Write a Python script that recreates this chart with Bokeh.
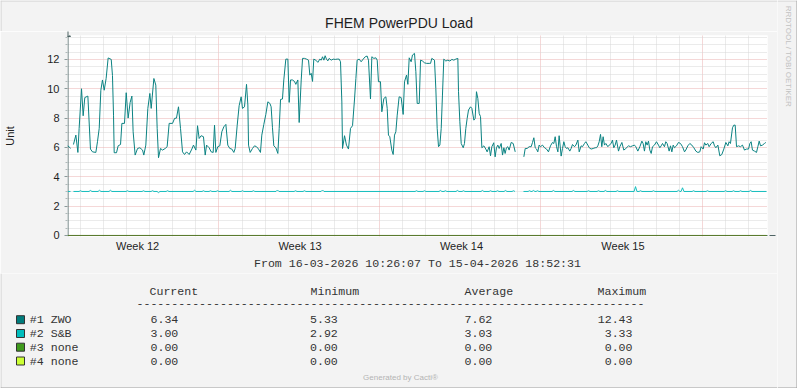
import math
from bokeh.plotting import figure
from bokeh.layouts import row, column
from bokeh.models import Range1d, FixedTicker, Arrow, NormalHead
from bokeh.core.properties import value
from bokeh.embed import file_html
from bokeh.resources import INLINE

NAN = float("nan")

TITLE = "FHEM PowerPDU Load"
SUBTITLE = "From 16-03-2026 10:26:07 To 15-04-2026 18:52:31"
Y_LABEL = "Unit"
VENDOR = "RRDTOOL / TOBI OETIKER"
FOOTER = "Generated by Cacti\u00ae"

SPAN_HOURS = 728.44          # 16-03 10:26:07 -> 15-04 18:52:31
Y_MIN, Y_MAX = -0.07, 13.63

# x axis in hours since the graph start
WEEK_LABELS = ["Week 12", "Week 13", "Week 14", "Week 15"]
WEEK_LABEL_HOURS = [73, 242, 410, 578]
WEEK_START_HOURS = [157.6, 324.6, 492.6, 660.6]
DAY_START_HOURS = [13.6, 37.6, 61.6, 85.6, 109.6, 133.6, 157.6, 181.6, 205.6, 229.6,
                   253.6, 277.6, 301.6, 324.6, 348.6, 372.6, 396.6, 420.6, 444.6, 468.6,
                   492.6, 516.6, 540.6, 564.6, 588.6, 612.6, 636.6, 660.6, 684.6, 708.6]
Y_TICKS = [0, 2, 4, 6, 8, 10, 12]
Y_MINOR = [0.5, 1, 1.5, 2.5, 3, 3.5, 4.5, 5, 5.5, 6.5, 7, 7.5, 8.5, 9, 9.5,
           10.5, 11, 11.5, 12.5, 13, 13.5]

# series #1 ZWO
ZWO_HOURS = [
    0.0, 1.7, 3.1, 4.5, 6.2, 8.7, 10.8, 12.1, 14.6, 16.3, 18.0, 21.2, 23.9, 26.0, 29.5, 31.2,
    33.0, 34.7, 36.4, 38.2, 40.2, 42.3, 45.5, 46.8, 47.9, 48.6, 51.0, 52.7, 55.2, 56.6, 59.3,
    61.1, 63.1, 65.2, 67.0, 68.3, 70.4, 72.9, 75.3, 78.1, 79.4, 81.5, 83.6, 85.7, 87.1, 89.9,
    91.9, 93.3, 94.7, 96.8, 98.9, 101.7, 103.7, 105.8, 109.3, 111.4, 113.4, 115.5, 117.6,
    119.7, 121.8, 123.9, 126.6, 129.4, 131.1, 133.6, 135.3, 137.0, 139.1, 141.5, 143.3, 144.7,
    147.4, 149.5, 151.6, 153.0, 154.4, 156.4, 158.5, 160.6, 162.7, 164.8, 166.8, 168.9, 171.0,
    173.1, 174.5, 176.6, 178.6, 180.7, 182.1, 184.2, 186.3, 187.7, 188.4, 190.1, 192.5, 194.6,
    196.7, 198.8, 200.8, 202.2, 204.3, 206.4, 208.5, 210.6, 211.9, 213.3, 214.7, 216.8, 218.9,
    220.3, 221.7, 223.7, 225.1, 227.2, 229.3, 230.7, 232.1, 234.1, 236.2, 237.6, 239.7, 241.1,
    243.2, 244.6, 246.6, 248.7, 250.8, 252.2, 253.6, 255.0, 256.3, 258.4, 260.5, 262.6, 264.0,
    265.4, 266.8, 268.1, 269.5, 270.9, 272.3, 274.4, 276.5, 278.6, 280.6, 282.7, 284.1, 285.5,
    286.2, 288.3, 290.3, 292.4, 294.5, 296.6, 298.7, 300.1, 301.4, 303.5, 305.6, 307.7, 309.8,
    311.8, 313.2, 315.3, 316.7, 318.8, 320.9, 322.3, 323.6, 325.7, 327.1, 329.2, 331.3, 332.7,
    334.0, 335.4, 337.5, 338.9, 340.3, 341.7, 343.1, 345.1, 347.2, 349.3, 350.7, 352.8, 354.2,
    355.6, 357.6, 359.0, 361.1, 362.5, 363.9, 366.0, 367.4, 369.4, 371.5, 373.6, 376.4, 377.8,
    379.1, 381.9, 383.3, 384.7, 386.1, 387.5, 388.9, 390.2, 391.6, 393.7, 395.8, 397.9, 400.0,
    402.0, 404.1, 406.2, 406.9, 408.3, 409.7, 411.8, 413.1, 414.5, 415.9, 417.3, 419.4, 420.8,
    422.9, 424.2, 425.6, 427.0, 428.4, 429.8, 431.2, 433.3, 435.3, 436.7, 438.8, 440.2, 441.6,
    443.6, 445.0, 446.4, 447.8, 449.2, 451.3, 452.7, 454.1, 455.4, 456.8, 458.2, 459.6, 461.7,
    463.8, 465.9, 470.0, 474.9, 476.3, 478.3, 480.4, 482.5, 483.9, 485.3, 486.7, 488.1, 489.4,
    490.8, 492.2, 494.3, 496.4, 498.5, 500.5, 502.6, 504.7, 506.1, 507.5, 508.9, 510.3, 511.6,
    513.7, 515.1, 516.5, 517.9, 519.3, 520.7, 522.7, 524.1, 525.5, 527.6, 529.0, 531.1, 532.5,
    534.5, 535.9, 538.0, 539.4, 541.5, 542.9, 544.9, 547.0, 549.1, 550.5, 551.9, 553.3, 554.7,
    556.0, 557.4, 558.8, 560.2, 562.3, 563.7, 565.8, 567.1, 568.5, 569.9, 571.3, 573.4, 574.8,
    576.9, 578.9, 581.0, 583.8, 585.9, 587.9, 590.0, 591.4, 593.5, 595.6, 597.7, 599.0, 600.4,
    601.8, 603.2, 604.6, 606.0, 607.4, 608.8, 610.8, 612.9, 615.0, 616.4, 617.8, 619.2, 621.2,
    622.6, 624.0, 626.1, 627.5, 628.9, 630.3, 631.7, 633.7, 635.8, 637.9, 640.0, 642.1, 643.4,
    645.5, 647.6, 649.7, 651.8, 653.9, 655.9, 658.0, 659.4, 661.5, 662.9, 664.3, 666.3, 667.7,
    669.8, 671.9, 673.3, 674.7, 676.8, 678.8, 680.9, 683.0, 685.1, 687.2, 688.5, 689.9, 692.0,
    693.4, 694.8, 696.2, 698.3, 700.3, 702.4, 704.5, 706.6, 708.7, 710.1, 711.4, 712.8, 714.9,
    717.0, 718.4, 719.8, 721.2, 723.2, 725.3, 726.7]
ZWO_VALUES = [
    6.11, 6.05, 5.93, NAN, 6.2, 6.84, 5.66, 7.3, 10.0, 8.16, 9.4, 9.5, 5.89, 5.7, 5.66, 6.39,
    7.3, 9.9, 10.6, 9.9, 10.7, 12.1, 12.0, 10.9, 8.2, 5.64, 5.64, 6.11, 6.2, 7.64, 7.64,
    9.73, 8.0, 9.07, 9.5, 7.07, 5.48, 5.93, 5.98, 5.82, 5.48, 6.16, 8.66, 9.68, 8.66, 10.7,
    10.25, 7.3, 5.3, 5.93, 5.82, 5.93, 6.05, 7.64, 7.64, 7.98, 8.0, 8.77, 7.3,
    5.7, 5.52, 5.7, 5.52, 5.89, 6.16, 5.82, 7.48, 6.61, 6.8, 6.73, 5.48, 6.16,
    5.98, 5.7, 5.66, 7.52, 5.66, 6.05, 6.11, 7.07, 7.41, 7.57, 6.16, 5.93, 5.89,
    5.66, 5.93, 7.52, 8.84, 9.45, 8.66, 8.77, 10.3, 8.89, 6.16, 5.66, 5.93, 6.11,
    6.05, 5.89, 5.66, 6.84, 7.57, 8.25, 9.11, 9.0, 8.77, 7.34, 6.11, 5.98, 5.59,
    7.3, 9.27, 9.3, 10.6, 12.02, 12.02, 9.07, 10.6, 10.6, 10.5, 10.3, 10.6, 7.7,
    10.6, 12.07, 12.07, 12.02, 11.95, 10.93, 11.05, 10.5, 12.02, 11.95, 11.8, 12.02, 11.95,
    12.18, 11.95, 12.25, 12.02, 11.9, 12.07, 11.95, 12.02, 12.0, 12.02, 12.02, 11.84, 9.1,
    5.93, 6.8, 6.16, 5.89, 7.3, 7.48, 9.3, 10.7, 11.95, 12.02, 11.84, 12.02, 12.18,
    12.23, 11.95, 9.3, 12.18, 12.07, 12.11, 11.95, 10.48, 10.48, 8.43, 9.34, 9.45, 8.66,
    6.84, 6.73, 5.82, 5.52, 6.84, 7.07, 8.2, 9.45, 9.4, 8.25, 10.48, 10.93, 10.3,
    12.11, 11.84, 12.3, 12.41, 11.16, 9.0, 9.0, 11.95, 11.89, 11.77, 11.73, 11.73, 11.73,
    12.07, 11.95, 10.0, 7.3, 6.05, 6.16, 7.3, 9.57, 12.02, 11.89, 11.95, 11.89, 12.0,
    11.95, 12.02, 12.07, 9.8, 7.75, 6.27, 5.98, 6.27, 7.3, 7.98, 8.55, 8.77, 8.66,
    7.86, 7.98, 9.8, 9.34, 8.32, 8.1, 5.98, 6.11, 5.89, 5.7, 6.05, 5.43, 6.05,
    6.32, 5.36, 5.98, 6.16, 5.93, 6.27, 5.48, 5.98, 5.59, 5.98, 6.05, 5.82, 6.34,
    6.27, 5.7, NAN, 5.36, 5.93, 5.93, 6.05, 6.05, 6.34, 6.66, 5.98, 5.89, 5.7,
    6.16, 6.05, 6.16, 5.98, 5.89, 5.7, 6.11, 6.34, 6.27, 6.73, 6.05, 5.7, 6.8,
    5.41, 5.93, 6.39, 6.05, 5.93, 5.98, 5.75, 5.93, 6.2, 6.05, 6.16, 6.5, 5.7,
    6.11, 6.05, 6.27, 6.39, 6.16, 5.98, 5.89, 5.93, 5.98, 5.98, 6.11, 6.39, 6.89,
    6.05, 6.73, 6.16, 6.27, 6.05, 6.16, 6.27, 6.5, 5.98, 6.16, 6.5, 5.75, 6.05,
    6.34, 5.82, 5.93, 6.11, 6.05, 6.11, 6.16, 6.05, 5.75, 6.05, 6.43, 6.27, 5.75,
    6.39, 6.16, 6.43, 5.82, 5.59, 6.05, 6.16, 6.39, 6.16, 5.98, 6.11, 6.27, 6.05,
    6.39, 6.27, 5.75, 6.11, 5.7, 6.16, 5.98, 6.11, 6.34, 6.27, 6.05, 5.7, 5.82,
    6.11, 6.27, 6.16, 5.98, 5.75, 5.66, 5.7, 6.05, 5.89, 6.32, 6.16, 6.27, 6.05,
    6.27, 6.39, 6.11, 5.98, 6.16, 5.43, 5.52, 5.89, 6.34, 6.11, 6.39, 6.27, 7.34,
    7.52, 7.52, 6.05, 6.11, 6.05, 6.16, 5.82, 5.89, 5.89, 6.27, 6.39, 5.82, 5.75,
    5.66, 6.05, 6.43, 6.11, 6.16, 6.27, 6.34]

# series #2 S&B
SB_HOURS = [
    0.0, 3.1, 4.5, 6.2,
    12.0, 13.5, 15.0, 22.4, 23.9, 25.4, 31.8, 33.3, 34.8, 43.2, 44.7, 46.2,
    60.9, 62.4, 63.9, 77.6, 79.1, 80.6, 87.0, 88.5, 90.0, 93.2, 94.7, 96.2,
    102.6, 104.1, 105.6, 130.7, 132.2, 133.7, 140.0, 141.5, 143.0, 147.3, 148.8, 150.3,
    154.6, 156.1, 157.6, 168.1, 169.6, 171.1, 180.6, 182.1, 183.6, 192.0, 193.5, 195.0,
    217.0, 218.5, 220.0, 235.8, 237.3, 238.8, 245.1, 246.6, 248.1, 263.9, 265.4, 266.9,
    361.7, 363.2, 364.7, 370.0, 371.5, 373.0, 386.6, 388.1, 389.6, 391.8, 393.3, 394.8,
    404.3, 405.8, 407.3, 410.6, 412.1, 413.6, 430.3, 431.8, 433.3, 438.7, 440.2, 441.7,
    446.0, 447.5, 449.0, 454.3, 455.8, 457.3, 462.6, 464.1, 465.6, 470.0, 474.5,
    479.3, 480.8, 482.3, 483.4, 484.9, 486.4, 487.6, 489.1, 490.6, 504.2, 505.7, 507.2,
    525.0, 526.5, 528.0, 540.7, 542.2, 543.7, 551.1, 552.6, 554.1, 558.3, 559.8, 561.3,
    570.8, 572.3, 573.8, 589.6, 591.1, 592.6, 594.8, 596.3, 597.8, 608.3, 609.8, 611.3,
    634.3, 635.8, 637.3, 638.5, 640.0, 641.5, 650.0, 651.5, 653.0, 664.5, 666.0, 667.5,
    683.3, 684.8, 686.3, 691.6, 693.1, 694.6, 698.9, 700.4, 701.9, 709.3, 710.8, 712.3,
    727.4]
SB_VALUES = [
    3.0, 3.0, NAN, 3.0,
    3.0, 3.05, 3.0, 3.0, 3.07, 3.0, 3.0, 3.08, 3.0, 3.0, 3.08, 3.0,
    3.0, 3.05, 3.0, 3.0, 3.05, 3.0, 3.0, 3.05, 3.0, 3.0, 2.92, 3.0,
    3.0, 3.05, 3.0, 3.0, 3.08, 3.0, 3.0, 3.05, 3.0, 3.0, 3.05, 3.0,
    3.0, 3.05, 3.0, 3.0, 3.08, 3.0, 3.0, 3.05, 3.0, 3.0, 3.05, 3.0,
    3.0, 3.1, 3.0, 3.0, 3.05, 3.0, 3.0, 3.05, 3.0, 3.0, 3.1, 3.0,
    3.0, 3.05, 3.0, 3.0, 3.05, 3.0, 3.0, 3.07, 3.0, 3.0, 3.05, 3.0,
    3.0, 3.07, 3.0, 3.0, 3.05, 3.0, 3.0, 3.07, 3.0, 3.0, 3.05, 3.0,
    3.0, 3.05, 3.0, 3.0, 3.07, 3.0, 3.0, 3.05, 3.0, NAN, 3.0,
    3.0, 3.05, 3.0, 3.0, 3.07, 3.0, 3.0, 3.05, 3.0, 3.0, 3.07, 3.0,
    3.0, 3.07, 3.0, 3.0, 3.05, 3.0, 3.0, 3.05, 3.0, 3.0, 3.07, 3.0,
    3.0, 3.05, 3.0, 3.0, 3.33, 3.0, 3.0, 3.05, 3.0, 3.0, 3.05, 3.0,
    3.0, 3.08, 3.0, 3.0, 3.25, 3.0, 3.0, 3.05, 3.0, 3.0, 3.05, 3.0,
    3.0, 3.05, 3.0, 3.0, 3.05, 3.0, 3.0, 3.05, 3.0, 3.0, 3.07, 3.0,
    3.0]

# series #3 / #4 (none)
NONE_HOURS = [0.0, 727.4]
NONE3_VALUES = [0.0, 0.0]
NONE4_VALUES = [0.0, 0.0]

# legend table
LEGEND_NAMES = ["#1 ZWO", "#2 S&B", "#3 none", "#4 none"]
LEGEND_COLORS = ["#007C7C", "#00BDBD", "#3F9A1C", "#CCFF33"]
STAT_HEADERS = ["Current", "Minimum", "Average", "Maximum"]
STAT_CURRENT = ["6.34", "3.00", "0.00", "0.00"]
STAT_MINIMUM = ["5.33", "2.92", "0.00", "0.00"]
STAT_AVERAGE = ["7.62", "3.03", "0.00", "0.00"]
STAT_MAXIMUM = ["12.43", "3.33", "0.00", "0.00"]

BG = "#F3F3F3"
AXIS_C = "#4E6464"
TEXT_C = "#1E1E1E"
LEG_C = "#333333"
EDGE_LIGHT = "#CFCFCF"
EDGE_DARK = "#9C9C9C"
MONO = "Liberation Mono"
SANS = "Liberation Sans"

W_MAIN, W_SIDE = 777, 20
TOP_H = 31                 # title strip: page rows 0..31
CHART_TOP, CHART_BOTTOM = 31, 273
FRAME_TOP, FRAME_BOTTOM = 35, 236
CHART_H = CHART_BOTTOM - CHART_TOP
LEG_H = 388 - CHART_BOTTOM


def blank(w, h, x0, y0):
    """A text-only panel whose data coordinates follow the page's pixels."""
    f = figure(width=w, height=h, output_backend="svg", toolbar_location=None, title=None,
               x_range=Range1d(x0, x0 + w), y_range=Range1d(y0 + h, y0),
               x_axis_location=None, y_axis_location=None, frame_align=False,
               min_border=0, min_border_left=0, min_border_right=0,
               min_border_top=0, min_border_bottom=0,
               background_fill_color=BG, border_fill_color=BG, outline_line_color=None)
    f.grid.visible = False
    return f


def put(f, x, y, text, size, font=SANS, color=TEXT_C, align="left", angle=0.0):
    f.text(x=[x], y=[y], text=[text], text_font=value(font), text_font_size=value(f"{size}px"),
           text_color=color, text_align=align, text_baseline="middle", angle=angle)


# ---- title strip ----
top = blank(W_MAIN, TOP_H, 0, 0)
put(top, 398.5, 22.0, TITLE, 14, align="center")
top.line([0, W_MAIN], [0.5, 0.5], line_color=EDGE_LIGHT, line_width=1)
top.line([0.5, 0.5], [0, TOP_H], line_color=EDGE_LIGHT, line_width=1)

# ---- chart ----
p = figure(width=W_MAIN, height=CHART_H, output_backend="svg", toolbar_location=None,
           title=None, x_range=Range1d(0, SPAN_HOURS), y_range=Range1d(Y_MIN, Y_MAX),
           frame_align=False,
           min_border_left=67, min_border_right=W_MAIN - 767,
           min_border_top=FRAME_TOP - CHART_TOP,
           min_border_bottom=CHART_BOTTOM - FRAME_BOTTOM,
           background_fill_color="white", border_fill_color=BG, outline_line_color=None)

minor_days = [d for d in DAY_START_HOURS if all(abs(d - w) > 1 for w in WEEK_START_HOURS)]
p.xgrid.ticker = FixedTicker(ticks=WEEK_START_HOURS, minor_ticks=minor_days)
p.ygrid.ticker = FixedTicker(ticks=Y_TICKS[1:], minor_ticks=Y_MINOR)
for g in (p.xgrid, p.ygrid):
    g.grid_line_color = "#EAB0B0"
    g.grid_line_dash = "1 1"
    g.minor_grid_line_color = "#D6D6D6"
    g.minor_grid_line_dash = "1 1"

xa = p.xaxis[0]
xa.ticker = FixedTicker(ticks=WEEK_LABEL_HOURS)
xa.major_label_overrides = {h: lab for h, lab in zip(WEEK_LABEL_HOURS, WEEK_LABELS)}
xa.axis_line_color = None
xa.major_tick_line_color = None
xa.minor_tick_line_color = None
xa.major_tick_in = 0
xa.major_tick_out = 0
xa.minor_tick_in = 0
xa.minor_tick_out = 0
xa.major_label_standoff = 3
xa.major_label_text_font = SANS
xa.major_label_text_font_size = "11px"
xa.major_label_text_color = TEXT_C
xa.axis_label = SUBTITLE
xa.axis_label_text_font = MONO
xa.axis_label_text_font_size = "11.6px"
xa.axis_label_text_font_style = "normal"
xa.axis_label_text_color = LEG_C
xa.axis_label_standoff = 2

ya = p.yaxis[0]
ya.ticker = FixedTicker(ticks=Y_TICKS, minor_ticks=Y_MINOR)
ya.axis_line_color = None
ya.major_tick_in = 0
ya.major_tick_out = 3
ya.minor_tick_in = 0
ya.minor_tick_out = 2
ya.major_tick_line_color = "#8A9A9A"
ya.minor_tick_line_color = "#B0BABA"
ya.major_label_standoff = 5
ya.major_label_text_font = SANS
ya.major_label_text_font_size = "11px"
ya.major_label_text_color = TEXT_C
ya.axis_label = Y_LABEL
ya.axis_label_text_font = SANS
ya.axis_label_text_font_size = "11px"
ya.axis_label_text_font_style = "normal"
ya.axis_label_text_color = TEXT_C
ya.axis_label_standoff = 28

# axis lines with arrow heads (screen units, relative to the frame's lower-left)
p.add_layout(Arrow(x_start=0.5, y_start=0, x_end=0.5, y_end=FRAME_BOTTOM - CHART_TOP,
                   start_units="screen", end_units="screen",
                   line_color=AXIS_C, line_width=1, level="underlay",
                   end=NormalHead(size=5, fill_color=AXIS_C, line_color=AXIS_C)))
p.add_layout(Arrow(x_start=0, y_start=1.0, x_end=775 - 67, y_end=1.0,
                   start_units="screen", end_units="screen",
                   line_color=AXIS_C, line_width=1, level="underlay",
                   end=NormalHead(size=6, fill_color=AXIS_C, line_color=AXIS_C)))
# outer left edge of the picture
p.add_layout(Arrow(x_start=0.5 - 67, y_start=FRAME_BOTTOM - CHART_BOTTOM,
                   x_end=0.5 - 67, y_end=FRAME_BOTTOM - CHART_TOP,
                   start_units="screen", end_units="screen", start=None, end=None,
                   line_color=EDGE_LIGHT, line_width=1, level="underlay"))

p.line(NONE_HOURS, NONE3_VALUES, line_color=LEGEND_COLORS[2], line_width=1)
p.line(NONE_HOURS, NONE4_VALUES, line_color="#5C7A30", line_width=1)
p.line(SB_HOURS, SB_VALUES, line_color="#12BDBD", line_width=1)
p.line(ZWO_HOURS, ZWO_VALUES, line_color="#0B8282", line_width=1)

# ---- legend / footer strip ----
leg = blank(W_MAIN, LEG_H, 0, CHART_BOTTOM)
HEAD_X = [149, 310, 464, 597]
for hx, h in zip(HEAD_X, STAT_HEADERS):
    put(leg, hx, 290.7, h, 11.6, font=MONO, color=LEG_C)
put(leg, 136, 302.5, "-" * 73, 11.6, font=MONO, color=LEG_C)
ROW_Y = [319.2, 333.0, 346.7, 360.5]
leg.rect(x=[20] * 4, y=ROW_Y, width=8, height=8, fill_color=LEGEND_COLORS,
         line_color="#333333", line_width=1)
for i, ry in enumerate(ROW_Y):
    put(leg, 29.3, ry, LEGEND_NAMES[i], 11.6, font=MONO, color=LEG_C)
    put(leg, 150, ry, STAT_CURRENT[i], 11.6, font=MONO, color=LEG_C)
    put(leg, 309.5, ry, STAT_MINIMUM[i], 11.6, font=MONO, color=LEG_C)
    put(leg, 464, ry, STAT_AVERAGE[i], 11.6, font=MONO, color=LEG_C)
    put(leg, 632, ry, STAT_MAXIMUM[i], 11.6, font=MONO, color=LEG_C, align="right")
put(leg, 400, 377.3, FOOTER, 8, color="#B4B4B4", align="center")
leg.line([0.5, 0.5], [CHART_BOTTOM, 388], line_color=EDGE_LIGHT, line_width=1)
leg.line([0, W_MAIN], [387.5, 387.5], line_color=EDGE_DARK, line_width=1)

# ---- right strip with the vendor text ----
side = blank(W_SIDE, 388, W_MAIN, 0)
put(side, 788, 56, VENDOR, 8, color="#C2C2C2", align="center", angle=-math.pi / 2)
side.line([W_MAIN, 797], [0.5, 0.5], line_color=EDGE_LIGHT, line_width=1)
side.line([796.5, 796.5], [0, 388], line_color=EDGE_DARK, line_width=1)
side.line([W_MAIN, 797], [387.5, 387.5], line_color=EDGE_DARK, line_width=1)

layout = row(column(top, p, leg), side)
open("out.html", "w").write(file_html(layout, INLINE))
